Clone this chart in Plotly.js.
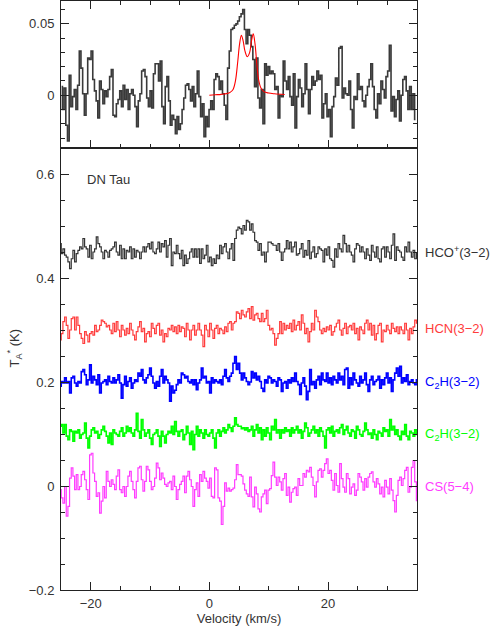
<!DOCTYPE html>
<html>
<head>
<meta charset="utf-8">
<script src="https://cdn.plot.ly/plotly-3.0.1.min.js"></script>
<style>
  html, body { margin: 0; padding: 0; background: #fff; }
  #chart { width: 500px; height: 627px; }
</style>
</head>
<body>
<div id="chart"></div>
<script>
// DN Tau spectra (mK)

// top panel: HCO+(3-2) in K*1000, channel grid x0/dx
var topStart = -24.9, topStep = 0.284;
var topMK = [
  6, -10, 5, -21, -32, 14, -8, -1, 4, -10,
  7, 31, 19, 1, -14, 1, 26, 25, 31, 11,
  3, -4, -16, 10, 4, -6, 3, -1, 4, 13,
  18, -14, -15, -6, -3, 3, -8, 7, -3, 4,
  -10, 1, 4, 0, -8, -22, -4, 1, 17, 18,
  13, -2, -8, 3, -9, 15, 22, 22, 10, 24,
  -8, -20, 6, 13, -4, -21, -14, -17, -27, -15,
  -24, -20, -10, -2, 7, 8, 4, -4, 6, -8,
  1, 17, -1, -15, -6, -29, -15, -22, -10, -4,
  -10, 11, 15, 13, 4, 10, 1, -7, -17, 19,
  31, 46, 47,
  49, 50, 52, 55, 57, 60, 46, 36, 46, 42,
  34, 25, 6, 26, -2, -9, 4, -20, 22, 14,
  20, 15, 17, 15, 4, 6, -16, 0, -1, 24,
  10, 4, 13, -1, -7, 15, -23, -1, 11, 5,
  -8, 1, 22, 4, -13, 4, 13, 7, 10, 17,
  11, 14, -16, -6, 1, -15, -10, -29, -8, -1,
  12, 7, 33, 34, -2, 5, 1, 0, 10, -10,
  -23, -1, -3, 15, 4, 6, -4, -8, 0, 6,
  11, 22, 6, -10, -16, 1, -6, 10, 4, -2,
  13, 17, 35, -11, -1, -15, -3, 3, -18, 0,
  11, 13, 3, -10, 6, -10, 1, -17
];

// model fit (red) in the top panel
var modelV  = [0, 1, 2, 3, 3.5, 4, 4.4, 4.8, 5.1, 5.4, 5.7, 6.0, 6.4, 6.8, 7.1, 7.4, 7.7, 8.0, 8.3, 8.7, 9.2, 10, 11, 12.7];
var modelMK = [0, 0.3, 0.6, 1.2, 2, 4, 10, 24, 36, 42, 38, 31, 27, 30, 38, 43, 36, 22, 11, 5, 2.5, 1.5, 1, 0.5];

// bottom panel: deviations (mK) from each offset baseline
var lowStart = -25.1, lowStep = 0.281;
var offsets = [0.45, 0.303, 0.2, 0.1, 0];
var names = ['HCO<sup>+</sup>(3\u22122)', 'HCN(3\u22122)', 'C<sub>2</sub>H(3\u22122)', 'C<sub>2</sub>H(3\u22122)', 'CS(5\u22124)'];
var colors = ['#333333', '#ff3c3c', '#0000ff', '#00ff00', '#ff3cff'];

var hcoMK = [
  16, -3, 6, -6, -10, -19, -32, -13, 3, -19,
  -3, 3, 10, 6, 26, 10, 6, -10, 13, -13,
  0, 6, 29, 16, 10, 0, -13, 3, 0, -10,
  3, 6, 10, 19, 0, -6, 13, -13, 6, -13,
  3, 0, 10, -13, 6, -10, 3, 0, -13, 0,
  10, 0, 10, 16, 6, 19, 0, -3, 6, 19,
  0, 16, 10, 22, -10, 13, 26, -26, 0, -3,
  13, -3, -13, 3, -26, -6, -22, -13, 0, 6,
  -10, 6, -10, 6, -22, 6, -13, -6, 13, -19,
  -10, -26, -13, -22, -6, -13, 13, -3, 10, 16,
  0, -13, 6, 16, -16, 26, 42, 48,
  45, 35, 51, 42, 61, 58, 42, 54, 38,
  22, 19, 3, 16, -6, 0, -19, 0, 19, 19,
  16, 13, 13, 3, 16, 0, -16, 0, 6, 22,
  6, 19, 0, 10, 19, -6, -3, 6, 16, -10,
  3, -6, 22, -13, 0, 10, -10, -3, 10, 6,
  3, -19, 6, -6, 10, -13, -16, -29, 6, -10,
  16, 6, 0, 32, 16, 0, 13, 0, -6, -19,
  6, 16, 13, 0, 10, 0, -13, 6, -6, -16,
  13, 0, -10, 10, -13, -19, 6, 10, -10, 10,
  0, -13, 13, 35, -16, 10, 3, 0, -10, -16,
  10, 0, 19, 0, -10, 3, -13, -3
];

var hcnMK = [
  -22, -10, 13, 22, 6, -19, -3, 19, 22, -3,
  22, 6, -10, -19, -29, -6, -13, -26, -10, -6,
  -13, 6, -6, -3, 6, 16, 13, 10, 3, 6,
  -3, -10, 10, -6, 13, -3, -16, 6, -3, -13,
  0, -10, 10, -3, -13, -22, -6, 3, 13, -6,
  0, -26, -10, -6, -16, 10, 0, -10, 6, 10,
  -13, -3, -26, -10, -16, 0, -3, 6, -6, 3,
  -10, 6, -6, 3, 0, -16, 10, -3, -22, -3,
  6, -13, -3, 10, -3, -13, -35, 6, -3, -16,
  10, -3, -19, 0, 6, -10, 0, -3, -10, 3,
  -6, 10, 13, -3, 10, 13, 32, 29,
  19, 35, 26, 22, 32, 38, 19, 42, 16,
  26, 29, 19, 13, 29, 13, 19, 35, 6, -3,
  0, -10, -32, -19, -10, 13, -10, 10, -3, 6,
  0, 10, -6, 16, -3, 6, 13, -3, 26, 10,
  -10, 0, -26, -6, 10, -3, 35, 22, 13, -3,
  -10, 0, -6, 3, -3, 6, -13, -6, 3, 10,
  16, -3, -13, 0, 10, -10, 3, 6, -3, 10,
  -10, 0, -22, 3, -3, -10, 10, 16, -3, 10,
  -13, 6, -22, -10, 6, 10, -26, -3, -6, 6,
  -3, -10, 10, 0, -6, 3, -10, 3, -3, -10,
  10, -3, -22, 0, -10, 3, 16, 10
];

var c2hBlueMK = [
  -8, 1, -2, 8, -2, 1, -21, 8, 11, -2,
  -8, 1, -2, 20, 24, 14, -5, 4, 33, -2,
  11, 4, -5, 14, -21, -2, 1, 4, -5, 11,
  1, -2, 8, -2, 4, 14, -2, -31, -5, 11,
  -8, 1, 8, -12, -2, 4, 1, 17, 11, 24,
  4, -2, 8, 14, 27, 11, -2, -12, 1, -8,
  11, 24, -2, 11, 4, -2, -37, -8, -21, -16,
  -5, 4, -2, 17, 14, 8, 11, 1, -2, 4,
  -5, 4, -15, -2, 4, 27, 8, 11, -2, 1,
  -21, 8, -2, 4, 1, -2, 4, -5, 11, 24,
  8, 1, 11, 17, 36, 49, 24, 36,
  17, 4, 17, 8, 1, -5,
  0, 20, 8, 17, 4, 11, 1, -12, -18, 4,
  -2, 11, 8, -2, 4, 1, -8, 8, 4, -18,
  -2, 1, -12, 4, -2, 8, 1, 17, 1, -5,
  -24, -2, 8, -8, -34, -18, 24, -5, 1, -12,
  4, 11, -5, 17, 4, 1, 17, -2, 8, -5,
  11, 4, -2, 17, 4, 11, -5, 24, 27, -12,
  8, -5, 17, 4, -2, -8, 11, -2, 4, 17,
  -5, -18, 4, 11, -5, 1, 4, 11, -12, 4,
  -5, 8, 17, -2, 8, -18, 4, 17, 27, 11,
  30, -2, 8, 1, 14, -5, 1, 4, -2, -5,
  4
];

var c2hGreenMK = [
  15, 18, 2, 18, -4, -11, 8, 5, -14, 5,
  2, 8, -8, -1, 2, 21, -8, -27, -4, 8,
  12, 2, 5, -8, -1, 8, 15, 5, -4, -17,
  2, -20, 8, 2, -1, -4, 5, 12, -4, 2,
  15, 5, 12, 2, -4, 8, 40, 5, -8, 28,
  8, -4, 2, 8, -8, -20, -1, 2, 8, -4,
  -24, 5, -4, -17, -1, 5, 2, 15, -1, 24,
  5, -4, 5, 8, -11, -1, 15, 2, -20, 5,
  -30, -1, 15, -4, 8, 2, -8, 8, -1, -4,
  2, 8, -8, -27, 2, 8, -4, 5, 12, 2,
  8, 18, 12, 5, 15, 31, 18, 15,
  15, 10, 12, 8, 12, 5,
  8, 15, -4, 8, 18, 2, 12, -11, 8, -4,
  12, 2, -11, 15, 8, 28, 2, 8, -8, 8,
  2, 12, 5, 8, -4, 12, 2, 8, 15, 2,
  8, -8, 5, 21, 12, -4, 2, 8, 15, 2,
  8, -4, 12, 5, -4, -27, 8, 12, 2, 15,
  -4, 5, 8, 2, 12, 18, -1, 8, 15, 2,
  -4, 8, 5, -8, 15, 8, -1, -4, 5, 21,
  8, -1, 2, -8, 8, -1, -11, 5, 2, -4,
  12, 5, 8, -4, 28, 8, 15, -1, 8, -4,
  -11, 5, -1, 18, -4, -11, 5, 2, -4, 8,
  -1
];

var csMK = [
  -7, -23, -33, -1, -58, -39, 15, 35, 19, -7,
  22, -7, -1, 22, 28, 12, -7, -26, 60, 63,
  25, 9, -20, -13, -52, -29, -1, -23, 28, 9,
  -1, 12, 3, -7, 19, 31, -7, -13, -1, -20,
  -1, 19, 28, 9, -7, -23, 9, 35, 38, 12,
  -10, 9, 38, 31, 9, -7, -1, 15, 44, 35,
  12, 25, 15, 3, -1, 6, 9, -7, 19, -1,
  -26, -7, 3, 9, 19, -13, 19, 28, 12, -1,
  -39, -7, 6, -20, 22, 9, 28, 15, 9, -4,
  15, -20, -23, 35, 31, -23, -29, -74, -39, 6,
  -10, -4, -10, -7, -4, 12, 41, 22,
  22, 19, 4, -8, -15, -20,
  17, -21, -40, -2, -15, -44, -50, -21, -15, -8,
  -34, -8, -5, 20, 46, 17, 1, 17, 8, -8,
  14, 24, -18, -2, -31, -12, -5, -2, -18, 14,
  1, 1, 24, 17, 30, 27, 36, 17, 1, -21,
  8, 30, 33, 17, 30, 43, 52, 24, 30, 11,
  -8, 24, 1, -12, 43, 14, -2, -12, 24, 14,
  -15, -2, 4, -18, -8, 24, 17, 8, -8, 14,
  -2, 17, 24, 27, 8, -2, 14, 4, -15, -2,
  -21, 11, -2, -15, 14, -8, -28, -50, -18, 11,
  17, 1, 14, 30, 36, -12, -2, 36, 49, 8,
  -28
];

var lowSeries = [hcoMK, hcnMK, c2hBlueMK, c2hGreenMK, csMK];

var textColor = '#333333';
var font = {family: 'Liberation Sans, Arial, sans-serif', size: 13, color: textColor};

var traces = [];
lowSeries.forEach(function (mk, i) {
  traces.push({
    type: 'scatter', mode: 'lines',
    x0: lowStart, dx: lowStep,
    y: mk.map(function (v) { return offsets[i] + v / 1000; }),
    line: {color: colors[i], width: (i === 2 || i === 3) ? 1.6 : 1.2, shape: 'hvh'},
    xaxis: 'x', yaxis: 'y', hoverinfo: 'skip'
  });
});

traces.push({
  type: 'scatter', mode: 'lines',
  x0: topStart, dx: topStep,
  y: topMK.map(function (v) { return v / 1000; }),
  line: {color: '#3a3a3a', width: 1.6, shape: 'hvh'},
  xaxis: 'x2', yaxis: 'y2', hoverinfo: 'skip'
});
traces.push({
  type: 'scatter', mode: 'lines',
  x: modelV,
  y: modelMK.map(function (v) { return v / 1000; }),
  line: {color: '#ff0000', width: 1.1, shape: 'spline'},
  xaxis: 'x2', yaxis: 'y2', hoverinfo: 'skip'
});

var split = 0.7504;

var axisBase = {
  showgrid: false, zeroline: false,
  showline: true, linecolor: '#222', linewidth: 1,
  ticks: 'inside', ticklen: 8, tickwidth: 1, tickcolor: '#222',
  tickfont: font, ticklabelstandoff: 3
};

var annotations = [{
  text: 'DN Tau', xref: 'x', yref: 'y', x: -21, y: 0.59,
  xanchor: 'left', yanchor: 'middle', showarrow: false, font: font
}, {
  text: 'T<sub>A</sub><sup>*</sup> (K)', xref: 'paper', yref: 'paper',
  x: -0.132, y: 0.41, textangle: -90, showarrow: false,
  xanchor: 'center', yanchor: 'middle', font: font
}];
names.forEach(function (n, i) {
  annotations.push({
    text: n, xref: 'paper', yref: 'y', x: 1.017, y: offsets[i],
    xanchor: 'left', yanchor: 'middle', showarrow: false,
    font: {family: font.family, size: 13, color: colors[i]}
  });
});

var layout = {
  width: 500, height: 627,
  margin: {l: 61, r: 83, t: 1, b: 37},
  paper_bgcolor: '#fff', plot_bgcolor: '#fff',
  showlegend: false,
  font: font,
  xaxis: Object.assign({}, axisBase, {
    domain: [0, 1], anchor: 'y', range: [-25, 35],
    tick0: 0, dtick: 20, mirror: true, ticklabelstandoff: 1,
    minor: {ticks: 'inside', dtick: 5, ticklen: 4, tickcolor: '#222'},
    title: {text: 'Velocity (km/s)', font: font, standoff: 4}
  }),
  yaxis: Object.assign({}, axisBase, {
    domain: [0, split], anchor: 'x', range: [-0.2, 0.65],
    tick0: 0, dtick: 0.2, mirror: 'allticks',
    minor: {ticks: 'inside', dtick: 0.05, ticklen: 4, tickcolor: '#222'}
  }),
  xaxis2: Object.assign({}, axisBase, {
    domain: [0, 1], anchor: 'y2', range: [-25, 35], matches: 'x',
    tick0: 0, dtick: 20, mirror: 'allticks', showticklabels: false,
    minor: {ticks: 'inside', dtick: 5, ticklen: 4, tickcolor: '#222'}
  }),
  yaxis2: Object.assign({}, axisBase, {
    domain: [split, 1], anchor: 'x2', range: [-0.037, 0.066],
    tick0: 0, dtick: 0.05, mirror: 'allticks',
    minor: {ticks: 'inside', dtick: 0.01, ticklen: 4, tickcolor: '#222'}
  }),
  annotations: annotations
};

Plotly.newPlot('chart', traces, layout, {displayModeBar: false, staticPlot: true});
</script>
</body>
</html>
